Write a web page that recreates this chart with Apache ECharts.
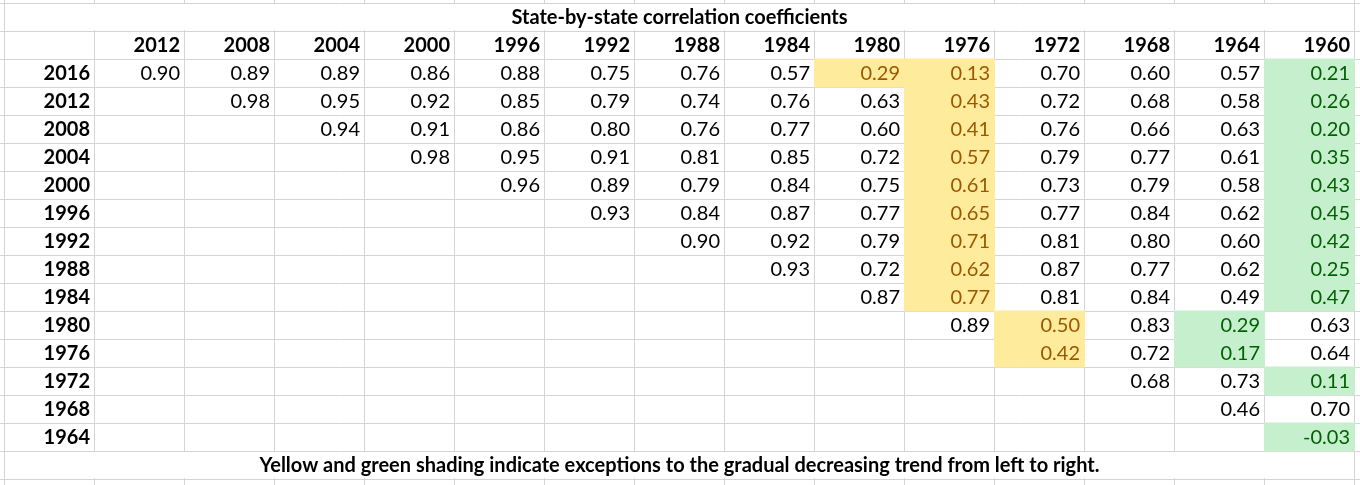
<!DOCTYPE html>
<html><head><meta charset="utf-8">
<script src="https://cdn.jsdelivr.net/npm/echarts@6/dist/echarts.min.js"></script>
<style>html,body{margin:0;padding:0;background:#fff}#c{width:1360px;height:485px}</style>
</head><body><div id="c"></div>
<script>
const titleText = 'State-by-state correlation coefficients';
const footnoteText = 'Yellow and green shading indicate exceptions to the gradual decreasing trend from left to right.';
const colYears = ['2012','2008','2004','2000','1996','1992','1988','1984','1980','1976','1972','1968','1964','1960'];
const rowYears = ['2016','2012','2008','2004','2000','1996','1992','1988','1984','1980','1976','1972','1968','1964'];
// each row starts at the column just after its own year (diagonal)
const values = [
  [0.90,0.89,0.89,0.86,0.88,0.75,0.76,0.57,0.29,0.13,0.70,0.60,0.57,0.21],
  [0.98,0.95,0.92,0.85,0.79,0.74,0.76,0.63,0.43,0.72,0.68,0.58,0.26],
  [0.94,0.91,0.86,0.80,0.76,0.77,0.60,0.41,0.76,0.66,0.63,0.20],
  [0.98,0.95,0.91,0.81,0.85,0.72,0.57,0.79,0.77,0.61,0.35],
  [0.96,0.89,0.79,0.84,0.75,0.61,0.73,0.79,0.58,0.43],
  [0.93,0.84,0.87,0.77,0.65,0.77,0.84,0.62,0.45],
  [0.90,0.92,0.79,0.71,0.81,0.80,0.60,0.42],
  [0.93,0.72,0.62,0.87,0.77,0.62,0.25],
  [0.87,0.77,0.81,0.84,0.49,0.47],
  [0.89,0.50,0.83,0.29,0.63],
  [0.42,0.72,0.17,0.64],
  [0.68,0.73,0.11],
  [0.46,0.70],
  [-0.03]
];
const yellowCells = [
  ['2016','1980'],['2016','1976'],['2012','1976'],['2008','1976'],['2004','1976'],['2000','1976'],
  ['1996','1976'],['1992','1976'],['1988','1976'],['1984','1976'],['1980','1972'],['1976','1972']
];
const greenCells = [
  ['2016','1960'],['2012','1960'],['2008','1960'],['2004','1960'],['2000','1960'],['1996','1960'],
  ['1992','1960'],['1988','1960'],['1984','1960'],['1980','1964'],['1976','1964'],['1972','1960'],['1964','1960']
];

const FONT = 'Lato';
const FS = 20;
const GRID = '#D4D4D4';

function kindOf(r, c) {
  if (yellowCells.some(p => p[0] === r && p[1] === c)) return 1;
  if (greenCells.some(p => p[0] === r && p[1] === c)) return 2;
  return 0;
}
const cellData = [];
values.forEach((row, i) => {
  row.forEach((v, j) => {
    const r = rowYears[i], c = colYears[i + j];
    cellData.push([c, r, v, kindOf(r, c)]);
  });
});

const xCats = ['padL', 'label'].concat(colYears, ['padR']);
const yCats = ['padT', 'title', 'header'].concat(rowYears, ['foot', 'padB']);

const chart = echarts.init(document.getElementById('c'), null, {renderer: 'canvas'});
const axisCommon = {
  type: 'category',
  axisLine: {show: false}, axisTick: {show: false}, axisLabel: {show: false},
  splitLine: {show: true, interval: 0, lineStyle: {color: GRID, width: 1}}
};
chart.setOption({
  animation: false,
  grid: {left: 4.5 - 90, top: 3 - 28, width: 90 * xCats.length, height: 28 * yCats.length,
    containLabel: false, outerBoundsMode: 'none'},
  xAxis: Object.assign({}, axisCommon, {data: xCats}),
  yAxis: Object.assign({}, axisCommon, {data: yCats, inverse: true}),
  series: [
    {
      type: 'custom', name: 'cells', encode: {x: 0, y: 1}, data: cellData, z: 3,
      renderItem: function (params, api) {
        const p = api.coord([api.value(0), api.value(1)]);
        const s = api.size([1, 1]);
        const kind = api.value(3);
        const v = api.value(2);
        const children = [];
        if (kind > 0) {
          children.push({type: 'rect', shape: {x: p[0] - s[0] / 2 - 0.5, y: p[1] - s[1] / 2 - 0.5, width: s[0] + 1, height: s[1] + 1},
            style: {fill: kind === 1 ? '#FFEB9C' : '#C6EFCE'}});
        }
        children.push({type: 'text', z2: 5, style: {text: v.toFixed(2), x: p[0] + s[0] / 2 - 4.5, y: p[1] + 1,
          align: 'right', verticalAlign: 'middle', fontFamily: FONT, fontSize: FS,
          fill: kind === 1 ? '#9C5700' : kind === 2 ? '#006100' : '#000'}});
        return {type: 'group', children: children};
      }
    },
    {
      type: 'custom', name: 'header', encode: {x: 0, y: 1}, z: 3,
      data: colYears.map(c => [c, 'header']),
      renderItem: function (params, api) {
        const p = api.coord([api.value(0), api.value(1)]);
        const s = api.size([1, 1]);
        return {type: 'text', style: {text: colYears[params.dataIndex], x: p[0] + s[0] / 2 - 4.5, y: p[1] + 1,
          align: 'right', verticalAlign: 'middle', fontFamily: FONT, fontSize: FS, fontWeight: 'bold', fill: '#000'}};
      }
    },
    {
      type: 'custom', name: 'rowLabels', encode: {x: 0, y: 1}, z: 3,
      data: rowYears.map(r => ['label', r]),
      renderItem: function (params, api) {
        const p = api.coord([api.value(0), api.value(1)]);
        const s = api.size([1, 1]);
        return {type: 'text', style: {text: rowYears[params.dataIndex], x: p[0] + s[0] / 2 - 4.5, y: p[1] + 1,
          align: 'right', verticalAlign: 'middle', fontFamily: FONT, fontSize: FS, fontWeight: 'bold', fill: '#000'}};
      }
    },
    {
      type: 'custom', name: 'merged', encode: {x: 0, y: 1}, z: 3,
      data: [['label', 'title'], ['label', 'foot']],
      renderItem: function (params, api) {
        const p = api.coord([api.value(0), api.value(1)]);
        const q = api.coord([colYears[colYears.length - 1], api.value(1)]);
        const s = api.size([1, 1]);
        const x0 = p[0] - s[0] / 2 + 1, x1 = q[0] + s[0] / 2 - 1;
        const txt = params.dataIndex === 0 ? titleText : footnoteText;
        return {type: 'group', children: [
          {type: 'rect', shape: {x: x0, y: p[1] - s[1] / 2 + 1, width: x1 - x0, height: s[1] - 2}, style: {fill: '#fff'}},
          {type: 'text', z2: 5, style: {text: txt, x: (x0 + x1) / 2, y: p[1] + 1, align: 'center', verticalAlign: 'middle',
            fontFamily: FONT, fontSize: FS, fontWeight: 'bold', fill: '#000'}}
        ]};
      }
    }
  ]
});
</script>
</body></html>
